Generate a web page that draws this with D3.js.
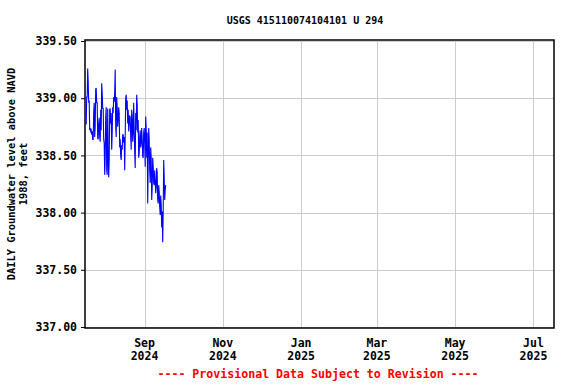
<!DOCTYPE html>
<html>
<head>
<meta charset="utf-8">
<script src="https://cdn.jsdelivr.net/npm/d3@7"></script>
<style>
  html, body { margin: 0; padding: 0; background: #fff; }
  svg { display: block; }
  text { font-family: "DejaVu Sans Mono", "Liberation Mono", monospace; font-weight: bold; }
</style>
</head>
<body>
<svg id="chart" width="576" height="384"></svg>
<script>
// ---- data ----
const title = "USGS 415110074104101 U 294";
const yAxisTitle = ["DAILY Groundwater level above NAVD", "1988, feet"];
const footer = "---- Provisional Data Subject to Revision ----";
const domainStart = new Date(2024, 6, 17);
const domainEnd = new Date(2025, 6, 17);
const xTickDates = [new Date(2024, 8, 1), new Date(2024, 10, 1), new Date(2025, 0, 1),
                    new Date(2025, 2, 1), new Date(2025, 4, 1), new Date(2025, 6, 1)];
const xTickMonths = ["Sep", "Nov", "Jan", "Mar", "May", "Jul"];
const xTickYears = ["2024", "2024", "2025", "2025", "2025", "2025"];
const yTicks = [337.0, 337.5, 338.0, 338.5, 339.0, 339.5];
const yDomain = [337.0, 339.5];
// readings (feet), starting 2024-07-17 13:00, one every 9.35 hours
const readingStart = new Date(2024, 6, 17, 13);
const readingStepHours = 9.35;
const levels = [
  338.77, 339.01, 339.01, 339.26, 339.14, 338.96, 338.98, 338.72, 338.74, 338.71,
  338.72, 338.68, 338.71, 338.64, 338.64, 338.87, 338.96, 338.66, 338.75, 339.08,
  339.09, 338.96, 338.96, 338.65, 338.64, 338.78, 338.83, 338.66, 338.62, 338.90,
  338.72, 339.13, 339.05, 338.91, 338.91, 338.64, 338.61, 338.33, 338.49, 338.83,
  338.92, 338.37, 338.33, 338.91, 338.50, 338.31, 338.46, 338.90, 338.91, 338.78,
  338.87, 338.55, 338.70, 338.92, 338.87, 339.01, 338.97, 339.05, 339.25, 338.75,
  338.66, 339.01, 338.92, 338.75, 338.81, 338.92, 338.87, 338.57, 338.64, 338.49,
  338.46, 338.59, 338.55, 338.68, 338.68, 338.61, 338.66, 338.37, 338.66, 339.00,
  339.03, 338.90, 338.98, 338.78, 338.90, 338.71, 338.78, 338.85, 338.83, 338.66,
  338.55, 338.90, 338.85, 338.62, 338.70, 338.96, 338.72, 338.53, 338.39, 338.87,
  338.72, 339.03, 338.94, 338.70, 338.81, 338.48, 338.52, 338.66, 338.72, 338.57,
  338.61, 338.74, 338.64, 338.49, 338.48, 338.70, 338.74, 338.61, 338.40, 338.84,
  338.74, 338.48, 338.70, 338.08, 338.43, 338.74, 338.64, 338.37, 338.26, 338.57,
  338.48, 338.11, 338.22, 338.48, 338.40, 338.26, 338.24, 338.37, 338.29, 338.17,
  338.22, 338.39, 338.35, 338.11, 338.08, 338.24, 338.18, 338.05, 337.98, 338.15,
  338.07, 337.87, 338.01, 337.74, 338.02, 338.46, 338.31, 338.11, 338.20, 338.24
];

// ---- layout ----
const svg = d3.select("#chart");
const plot = { left: 85.5, right: 554, top: 41, bottom: 327 };

const x = d3.scaleTime().domain([domainStart, domainEnd]).range([plot.left, plot.right]);
const y = d3.scaleLinear().domain(yDomain).range([plot.bottom, plot.top]);

const data = levels.map((v, i) => ({
  t: new Date(readingStart.getTime() + i * readingStepHours * 3600 * 1000),
  v
}));

// grid
const grid = svg.append("g").attr("stroke", "#cccccc").attr("stroke-width", 1);
grid.selectAll("line.gy").data(yTicks).join("line")
  .attr("x1", plot.left).attr("x2", plot.right)
  .attr("y1", d => Math.round(y(d)) + 0.5).attr("y2", d => Math.round(y(d)) + 0.5);
grid.selectAll("line.gx").data(xTickDates).join("line")
  .attr("y1", plot.top).attr("y2", plot.bottom)
  .attr("x1", d => Math.round(x(d)) + 0.5).attr("x2", d => Math.round(x(d)) + 0.5);

// data line
svg.append("path")
  .datum(data)
  .attr("fill", "none")
  .attr("stroke", "#0000ff")
  .attr("stroke-width", 1.1)
  .attr("d", d3.line().x(d => x(d.t)).y(d => y(d.v)));

// frame
svg.append("rect")
  .attr("x", 85).attr("y", 40)
  .attr("width", 554 - 85).attr("height", 328 - 40)
  .attr("fill", "none").attr("stroke", "#000").attr("stroke-width", 1.5);

// y axis ticks and labels
const yAxis = d3.axisLeft(y).tickValues(yTicks).tickFormat(d3.format(".2f")).tickSize(4).tickPadding(4);
const gy = svg.append("g").attr("transform", `translate(85,0)`).call(yAxis);
gy.select(".domain").remove();
gy.selectAll(".tick line").attr("stroke", "#000");
gy.selectAll(".tick text").attr("font-size", "11.5px").attr("fill", "#000")
  .attr("font-family", "DejaVu Sans Mono").attr("font-weight", "bold");

// x axis labels (two lines)
const xl = svg.append("g");
xl.selectAll("text.m").data(xTickDates).join("text")
  .attr("x", d => x(d)).attr("y", 347)
  .attr("text-anchor", "middle").attr("font-size", "11.5px")
  .text((d, i) => xTickMonths[i]);
xl.selectAll("text.yr").data(xTickDates).join("text")
  .attr("x", d => x(d)).attr("y", 360)
  .attr("text-anchor", "middle").attr("font-size", "11.5px")
  .text((d, i) => xTickYears[i]);

// title
svg.append("text").attr("x", 305).attr("y", 24)
  .attr("text-anchor", "middle").attr("font-size", "10px").text(title);

// y axis title
const yt = svg.append("text").attr("transform", "translate(15,174) rotate(-90)")
  .attr("text-anchor", "middle").attr("font-size", "10.4px");
yt.append("tspan").attr("x", 0).attr("y", 0).text(yAxisTitle[0]);
yt.append("tspan").attr("x", 0).attr("y", 12).text(yAxisTitle[1]);

// footer
svg.append("text").attr("x", 318).attr("y", 378)
  .attr("text-anchor", "middle").attr("font-size", "11.6px").attr("fill", "#ff0000")
  .text(footer);
</script>
</body>
</html>
